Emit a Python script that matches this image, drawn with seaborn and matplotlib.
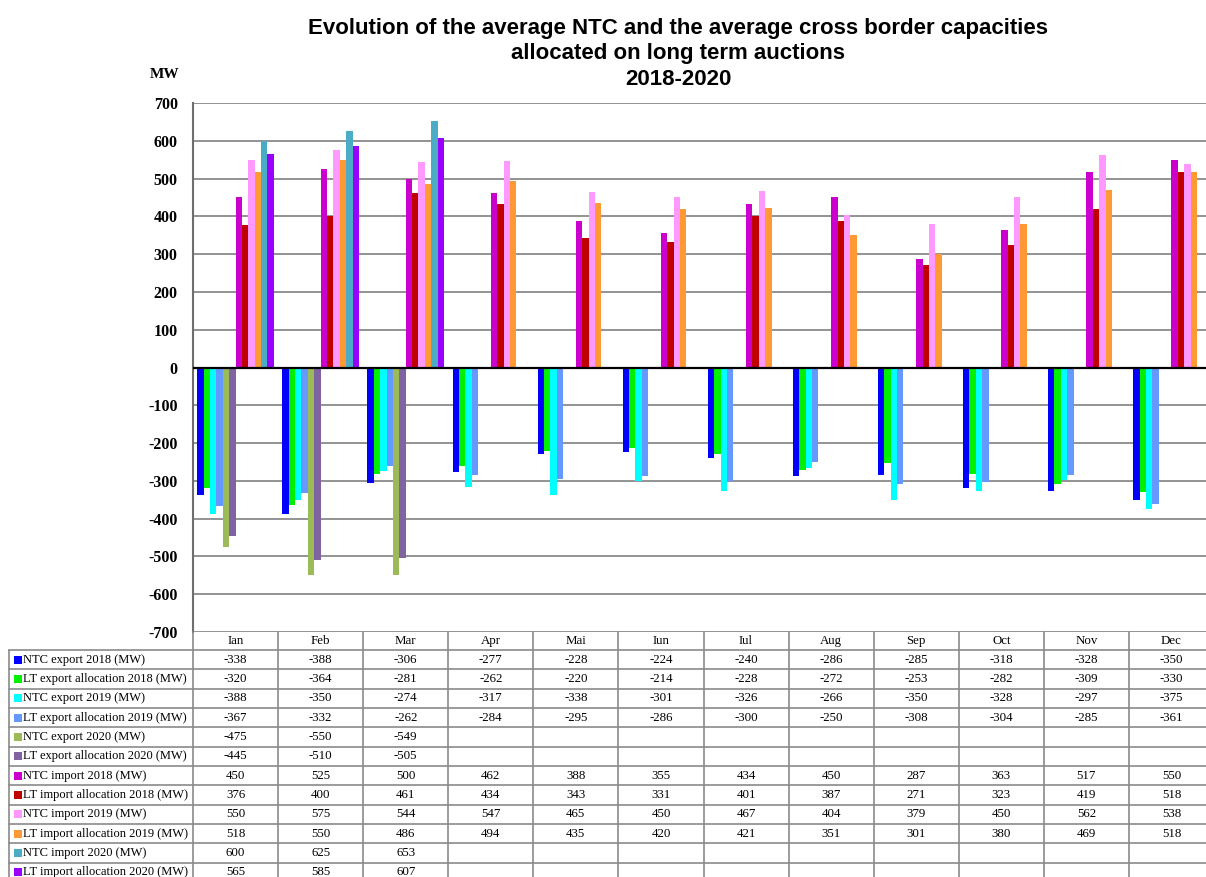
import numpy as np
import pandas as pd
import matplotlib
matplotlib.use("Agg")
import matplotlib.pyplot as plt
import seaborn as sns

months = ['Ian', 'Feb', 'Mar', 'Apr', 'Mai', 'Iun', 'Iul', 'Aug', 'Sep', 'Oct', 'Nov', 'Dec']
series_names = [
    'NTC export 2018 (MW)', 'LT export allocation 2018 (MW)',
    'NTC export 2019 (MW)', 'LT export allocation 2019 (MW)',
    'NTC export 2020 (MW)', 'LT export allocation 2020 (MW)',
    'NTC import 2018 (MW)', 'LT import allocation 2018 (MW)',
    'NTC import 2019 (MW)', 'LT import allocation 2019 (MW)',
    'NTC import 2020 (MW)', 'LT import allocation 2020 (MW)',
]
N = None
ntc_exp_2018 = [-338, -388, -306, -277, -228, -224, -240, -286, -285, -318, -328, -350]
lt_exp_2018 = [-320, -364, -281, -262, -220, -214, -228, -272, -253, -282, -309, -330]
ntc_exp_2019 = [-388, -350, -274, -317, -338, -301, -326, -266, -350, -328, -297, -375]
lt_exp_2019 = [-367, -332, -262, -284, -295, -286, -300, -250, -308, -304, -285, -361]
ntc_exp_2020 = [-475, -550, -549, N, N, N, N, N, N, N, N, N]
lt_exp_2020 = [-445, -510, -505, N, N, N, N, N, N, N, N, N]
ntc_imp_2018 = [450, 525, 500, 462, 388, 355, 434, 450, 287, 363, 517, 550]
lt_imp_2018 = [376, 400, 461, 434, 343, 331, 401, 387, 271, 323, 419, 518]
ntc_imp_2019 = [550, 575, 544, 547, 465, 450, 467, 404, 379, 450, 562, 538]
lt_imp_2019 = [518, 550, 486, 494, 435, 420, 421, 351, 301, 380, 469, 518]
ntc_imp_2020 = [600, 625, 653, N, N, N, N, N, N, N, N, N]
lt_imp_2020 = [565, 585, 607, N, N, N, N, N, N, N, N, N]

series_values = [ntc_exp_2018, lt_exp_2018, ntc_exp_2019, lt_exp_2019, ntc_exp_2020, lt_exp_2020,
                 ntc_imp_2018, lt_imp_2018, ntc_imp_2019, lt_imp_2019, ntc_imp_2020, lt_imp_2020]
colors = ['#0000FF', '#00F000', '#00FFFF', '#6699FF', '#9BBB59', '#8064A2',
          '#CC00CC', '#C00000', '#FF99FF', '#FF9933', '#4BACC6', '#9900FF']
yticks = list(range(-700, 701, 100))

rows = []
for name, vals in zip(series_names, series_values):
    for m, v in zip(months, vals):
        if v is not None:
            rows.append({'month': m, 'series': name, 'value': v})
df = pd.DataFrame(rows)

sns.set_style("white")
plt.rcParams['text.color'] = 'black'
plt.rcParams['ytick.color'] = 'black'

W, H = 1206, 877
fig = plt.figure(figsize=(W / 100, H / 100), dpi=100)

ax_left, ax_right, ax_top, ax_bot = 193, 1214, 103, 632
ax = fig.add_axes([ax_left / W, 1 - ax_bot / H, (ax_right - ax_left) / W, (ax_bot - ax_top) / H])

sns.barplot(data=df, x='month', y='value', hue='series', order=months, hue_order=series_names,
            palette=colors, width=0.9, ax=ax, legend=False, errorbar=None, saturation=1,
            linewidth=0, zorder=3)

ax.set_xlim(-0.5, 11.5)
ax.set_ylim(-700, 700)
ax.set_yticks(yticks)
ax.set_yticklabels([str(t) for t in yticks], fontfamily='Liberation Serif', fontweight='bold',
                   fontsize=11.5, color='black')
ax.tick_params(axis='y', length=0, pad=11)
ax.set_xticks([])
ax.set_xlabel('')
ax.set_ylabel('')
for t in yticks:
    if t == 0:
        ax.axhline(0, color='black', lw=1.6, zorder=4)
    else:
        ax.axhline(t, color='#8a8a8a', lw=1.3, zorder=1)
for s in ['top', 'right', 'bottom']:
    ax.spines[s].set_visible(False)
ax.spines['left'].set_color('#6e6e6e')
ax.spines['left'].set_linewidth(1.5)

fig.text(165 / W, 1 - 74 / H, 'MW', ha='center', va='center', fontfamily='Liberation Serif',
         fontweight='bold', fontsize=11, color='black')
fig.text(678 / W, 1 - 54 / H,
         'Evolution of the average NTC and the average cross border capacities\n'
         'allocated on long term auctions\n2018-2020',
         ha='center', va='center', fontfamily='Liberation Sans', fontweight='bold', fontsize=16,
         linespacing=1.28, color='black')

# Data table below
tleft, tright, ttop, tbot = 9, 1214, 632, 882
tax = fig.add_axes([tleft / W, 1 - tbot / H, (tright - tleft) / W, (tbot - ttop) / H])
colw = (ax_right - ax_left) / 12.0
lab_w = (ax_left - tleft) / colw
hdr_h = 18 / 19.35
nrows = len(series_names)
tax.set_xlim(-0.5 - lab_w, 11.5)
tax.set_ylim(nrows, -hdr_h)
tax.axis('off')
gc = '#8a8a8a'
for j, m in enumerate(months):
    tax.text(j, -hdr_h / 2, m, ha='center', va='center', fontfamily='Liberation Serif', fontsize=9.3,
             color='black')
for j in range(13):
    tax.plot([j - 0.5, j - 0.5], [-hdr_h, nrows], color=gc, lw=1.2, clip_on=False)
tax.plot([-0.5 - lab_w, -0.5 - lab_w], [0, nrows], color=gc, lw=1.2, clip_on=False)
for i in range(nrows + 1):
    tax.plot([-0.5 - lab_w, 11.5], [i, i], color=gc, lw=1.2, clip_on=False)
for i, (name, vals, c) in enumerate(zip(series_names, series_values, colors)):
    tax.scatter([-0.5 - lab_w + 0.105], [i + 0.5], marker='s', s=30, color=c, linewidths=0, clip_on=False)
    tax.text(-0.5 - lab_w + 0.17, i + 0.5, name, ha='left', va='center', fontfamily='Liberation Serif',
             fontsize=9.0, color='black')
    for j, v in enumerate(vals):
        if v is not None:
            tax.text(j, i + 0.5, str(v), ha='center', va='center', fontfamily='Liberation Serif',
                     fontsize=9.3, color='black')

fig.savefig('out.png', dpi=100, facecolor='white')
